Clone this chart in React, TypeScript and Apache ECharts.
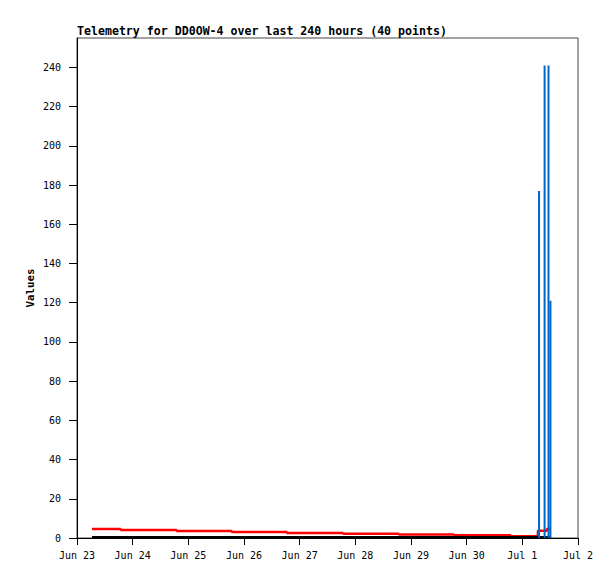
import React, { useEffect, useRef } from "react";
import * as echarts from "echarts";

const TITLE = "Telemetry for DD0OW-4 over last 240 hours (40 points)";
const Y_NAME = "Values";
const X_MIN = "2024-06-23T00:00:00Z";
const X_MAX = "2024-07-02T00:00:00Z";
const Y_TICKS = [0, 20, 40, 60, 80, 100, 120, 140, 160, 180, 200, 220, 240];
const Y_MAX = 255;
const MONTHS = ["Jan", "Feb", "Mar", "Apr", "May", "Jun", "Jul", "Aug", "Sep", "Oct", "Nov", "Dec"];

// red step series
const RED_TIMES = [
  "2024-06-23T06:29:00Z",
  "2024-06-23T18:50:00Z",
  "2024-06-24T18:58:00Z",
  "2024-06-25T18:43:00Z",
  "2024-06-26T18:29:00Z",
  "2024-06-27T18:43:00Z",
  "2024-06-28T18:43:00Z",
  "2024-06-29T18:29:00Z",
  "2024-06-30T18:58:00Z",
  "2024-07-01T06:43:00Z",
  "2024-07-01T10:34:00Z",
  "2024-07-01T12:14:00Z",
];
const RED_VALUES = [4.6, 4.1, 3.6, 3.1, 2.6, 2.2, 1.8, 1.4, 0.9, 3.7, 4.6, 4.6];

// black series (near zero)
const BLACK_VALUES = [0.35, 0.35, 0.35, 0.35, 0.35, 0.35, 0.35, 0.35, 0.35, 0.35, 0.35, 0.35];

// blue impulses
const BLUE_TIMES = [
  "2024-07-01T07:12:00Z",
  "2024-07-01T09:36:00Z",
  "2024-07-01T11:17:00Z",
  "2024-07-01T12:07:00Z",
];
const BLUE_VALUES = [177, 241, 241, 121];

const ms = (s: string) => Date.parse(s);
const FONT = "'DejaVu Sans Mono', monospace";

export default function App() {
  const ref = useRef<HTMLDivElement>(null);
  useEffect(() => {
    if (!ref.current) return;
    const chart = echarts.init(ref.current, null, { renderer: "svg" });
    const DAY = 86400000;
    chart.setOption({
      animation: false,
      backgroundColor: "#ffffff",
      title: {
        text: TITLE,
        left: 77,
        top: 25,
        padding: 0,
        textStyle: { fontFamily: FONT, fontSize: 11.6, fontWeight: "bold", color: "#000" },
      },
      grid: {
        left: 77,
        top: 38,
        right: 37,
        bottom: 41,
        show: true,
        borderColor: "#444",
        borderWidth: 1,
        backgroundColor: "transparent",
      },
      xAxis: {
        type: "value",
        min: ms(X_MIN),
        max: ms(X_MAX),
        interval: DAY,
        axisLine: { show: true, lineStyle: { color: "#000", width: 1 } },
        axisTick: { show: true, inside: false, length: 7, lineStyle: { color: "#000" } },
        splitLine: { show: false },
        axisLabel: {
          margin: 12,
          fontFamily: FONT,
          fontSize: 10,
          color: "#000",
          showMinLabel: true,
          showMaxLabel: true,
          formatter: (v: number) => {
            const d = new Date(v);
            return `${MONTHS[d.getUTCMonth()]} ${d.getUTCDate()}`;
          },
        },
      },
      yAxis: {
        type: "value",
        min: 0,
        max: Y_MAX,
        name: Y_NAME,
        nameLocation: "middle",
        nameGap: 41,
        nameMoveOverlap: false,
        nameRotate: 90,
        nameTextStyle: { fontFamily: FONT, fontSize: 10.8, fontWeight: "bold", color: "#000" },
        axisLine: { show: true, lineStyle: { color: "#000", width: 1 } },
        axisTick: { show: true, inside: false, length: 8, lineStyle: { color: "#000" }, customValues: Y_TICKS },
        splitLine: { show: false },
        axisLabel: {
          margin: 16,
          fontFamily: FONT,
          fontSize: 10,
          color: "#000",
          customValues: Y_TICKS,
        },
      },
      series: [
        {
          type: "line",
          step: "end",
          symbol: "none",
          data: RED_TIMES.map((t, i) => [ms(t), RED_VALUES[i]]),
          lineStyle: { color: "#ff0000", width: 2.5 },
          z: 3,
        },
        {
          type: "line",
          step: "end",
          symbol: "none",
          data: RED_TIMES.map((t, i) => [ms(t), BLACK_VALUES[i]]),
          lineStyle: { color: "#000000", width: 2.5 },
          z: 4,
        },
        {
          type: "bar",
          barWidth: 2,
          data: BLUE_TIMES.map((t, i) => [ms(t), BLUE_VALUES[i]]),
          itemStyle: { color: "#0066cc" },
          z: 5,
        },
      ],
    });
    return () => chart.dispose();
  }, []);
  return <div ref={ref} style={{ width: 615, height: 579, position: "absolute", left: 0, top: 0 }} />;
}
